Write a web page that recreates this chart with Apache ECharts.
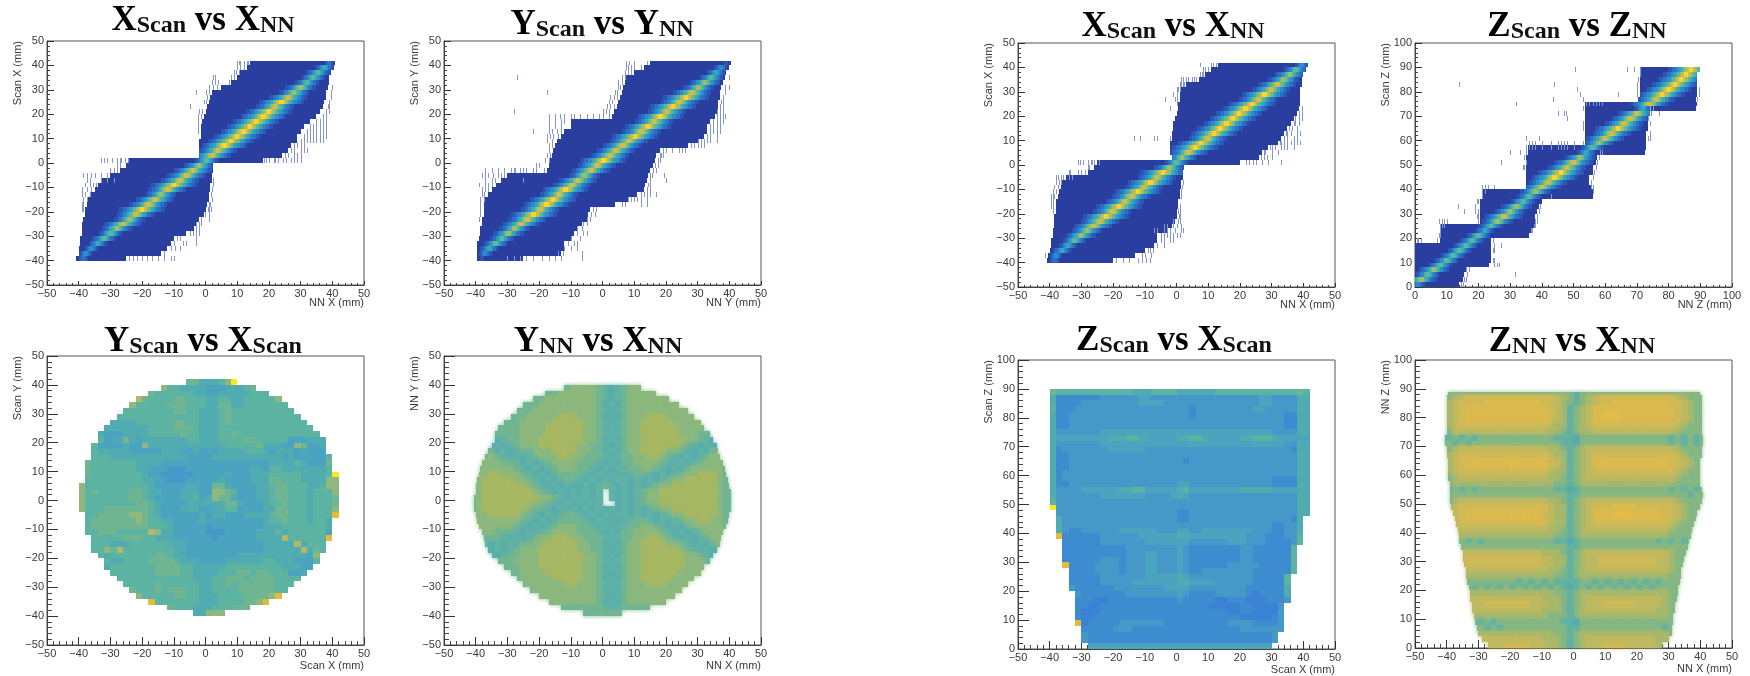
<!DOCTYPE html>
<html><head><meta charset="utf-8">
<style>html,body{margin:0;padding:0;background:#fff}#c{width:1750px;height:676px;filter:blur(0.45px)}</style>
<script src="https://cdn.jsdelivr.net/npm/echarts@6/dist/echarts.min.js"></script>
</head><body><div id="c"></div>
<script>
// ---------- ridge panels: one row per 2 mm scan step ----------
const xyRowEdges=[-40,-38,-36,-34,-32,-30,-28,-26,-24,-22,-20,-18,-16,-14,-12,-10,-8,-6,-4,-2,0,2,4,6,8,10,12,14,16,18,20,22,24,26,28,30,32,34,36,38,40];
const zRowEdges=[0,2,4,6,8,10,12,14,16,18,20,22,24,26,28,30,32,34,36,38,40,42,44,46,48,50,52,54,56,58,60,62,64,66,68,70,72,74,76,78,80,82,84,86,88];
const ridgeHalfWidths=[0.7,1.3,2.0,2.8,3.7,4.8,6.0,7.2];

const p1Lo=[-41,-40,-40,-39.5,-39.5,-39,-39,-39,-38.5,-38,-38,-37.5,-37,-36,-35,-34,-33,-30,-27,-25,-24,-2,-2,-2,-2,-1.5,-1.5,-1.5,-1,-0.5,0,0.5,1,1.5,2,5,8,10,11,13,14];
const p1Hi=[-25,-14,-12,-11,-10,-6,-3.5,-3,-2,-0.5,0,0.5,1,1,1.5,1.5,2,2,2.5,2.5,18,24,26,27,29,29,30,31,33,35,36,37,37.5,38,38,38.5,39,39,39.5,40.5,41];
const p1Centre=[-38.5,-37.8,-36,-34,-32,-30,-28,-26,-24,-22,-20,-18,-16,-14,-12,-10,-8,-6,-4,-2,0.3,2,4,6,8,10,12,14,16,18.3,20,22,24,26,28,30,32,34,35.5,37.5,39];
const p1Peak=[2,3,3,4,5,5,6,7,6,7,8,7,7,6,7,8,7,7,7,6,5,7,7,8,8,8,8,8,8,8,8,7,8,7,6,6,5,5,5,4,2];
const p1Flecks=[[-40,-24,-23,-21.5,-20,-18.5,-17,-15,-13,-11,-10],[-38,-13],[-36,-11,-9.5,-8],[-34,-10,-7,-6,-3],[-32,-9,-8,-3],[-30,-5,-4,-3,-2],[-28,-3,-2],[-26,-3,-1.5,-2],[-24,1,-1.5],[-22,1,-0.2],[-20,-39,-38.5,0.8,1.2,1.8],[-18,-39,-38.5,1,1.5],[-16,-38.5,-37.5,2],[-14,-39,-38,-36.5,1.8],[-12,-39,-37.5,-36,2],[-10,-38,-36.5,-35.5,-34.5,2.5],[-8,-37.5,-36.5,-33,-31,-29,2.5],[-6,-38.5,-37.5,-36,-35,-33,-31],[-4,-30,-29,-28],[-2,-28,-27],[0,-33,-32,-31,-29.5,-28,-27,-26.5,-25.5,-24.5,18.5,19,20,21.5,22,23,24.5,25.5,27,28,29,30],[2,25,26,28,29,30],[4,27,28,30,31,32],[6,28,29,30,31],[8,30,31,32,33,34,35,36,37],[10,31,32,33,34,35,36,37,38],[12,-2.4,32,33,34,35,36,37,38],[14,-2.5,33,34,35,36,37,38],[16,-2.5,35,36,37,38],[18,-2.5,-1.5,37,38],[20,-2,-1,38,39],[22,-5,38.5,39],[24,-0.5,0,39],[26,0.5,39.5],[28,-3,0,1,39.5],[30,1,2.5,3.5,40],[32,2,3,4,7.5],[34,2.5,3,8,9],[36,9,9.5,10.5],[38,10,11,12],[40,10,10.5,11,12,13,13.5]];

const p2Lo=[-39.5,-39.5,-39.5,-39.5,-39,-38.5,-38.5,-38,-38,-37.5,-37.5,-37.5,-37,-36,-35,-33.5,-32,-30,-17.5,-17,-16.5,-16,-15.5,-15,-14.5,-13,-12,-10,-10,3,3.5,4.5,5,5.5,6,6.5,7,7.5,10,13,15];
const p2Hi=[-25,-13,-12,-12,-10,-9,-8,-6.5,-5,-4.5,-4,4,8,11,13,13.5,14,14.5,15,16,16.5,17,18,27,30,32,33,33,34,35.5,36,36.5,36.5,37,37,37.5,38,38.5,39,40,40.5];
const p2Centre=[-38,-37,-35.7,-33.7,-31.7,-29.7,-27.7,-25.7,-23.7,-21.7,-19.7,-17.7,-15.7,-13.7,-11.7,-9.7,-7.7,-5.7,-3.7,-1.7,0.3,2.3,4.3,6.3,8.3,10.3,12.3,14.3,16.3,18.3,20.3,22.3,24.3,26.3,28.3,30.3,32.3,34.3,35.8,37.3,39];
const p2Peak=[1,3,4,5,5,6,6,7,7,8,7,8,8,7,8,7,7,6,7,7,8,7,7,7,7,8,7,8,7,8,7,8,7,8,7,6,6,5,4,3,1];
const p2Flecks=[[-40,-30,-28,-26,-24,-22,-19,-17,-15,-13,-6.5],[-38,-14,-12.5,-6.5],[-36,-12,-10,-8],[-34,-11,-9,-8],[-32,-10,-7],[-30,-8,-6,-5],[-28,-8,-6.5],[-26,-6,-5],[-24,-39,-5,-4],[-22,-38.7,-3.5,-2.5],[-20,-38.5,-3,-2],[-18,-38.5,6,7,12,14],[-16,-38.5,-37.5,8,9,10,11,12,14],[-14,-38,-37.5,12,13,14,15,17],[-12,-38,-37,-36,14,15],[-10,-39,-37,-36,-35,14.5,15],[-8,-37,-35,-34,-25,15,20],[-6,-38,-37,-36,-34.5,-33,-32,-31,15,15.5,19.5],[-4,-37,-35,-33,-31,-29,-28,-27.5,-26,-25,-24,-22,-21,-18.5,16,17],[-2,-20,-21,16.5,17.5],[0,-17,-18,17.5,18],[2,-17.5,-16.5,18,18.5,19],[4,-17,19,20,22,24,25,26],[6,-17,-16,28,29,30,31,32],[8,-17.5,-16,30,31,32,33,34,36],[10,-17.5,-16.5,-15.5,-14,33,34,36],[12,-22,-17,-16,-14.5,-13,34,35,36,37],[14,-17,-15,-13,34,35,36,37],[16,-17,-15,-13,-12,35,36,37,38],[18,-17,-15,-13.5,-12,-10,-9,-7,-5,-3,-1,0,2,36,37,38,38.5],[20,-28,0,1,2,36,37,38],[22,1.5,2.5,3.5,37,38],[24,2,3,37.5,38],[26,2.5,3.5,4.5,38],[28,-17.5,4,4.5,38.5],[30,5,5.5,38.5,40],[32,5,6],[34,-27,6,7,40],[36,7,8,9],[38,7.5,8,9,10,12],[40,7.5,8.5,10,14]];

const p5Lo=[-41,-40.5,-40,-39.5,-39.5,-39,-39,-38.5,-38.5,-38.5,-38,-38,-38,-37.5,-37,-36.5,-36,-35,-28,-26,-25,-1.5,-2,-2,-2,-1.5,-1.5,-1,-1,-0.5,0,0.5,0.5,1,1,1.5,3,7,9,11,13];
const p5Hi=[-20,-13,-10,-7,-6,-6,-3,-1.5,-0.5,0,0,0.5,0.5,1,1,1.5,1.5,2,2,2.5,20,26,27,29,32,33,34,35,36,37,38,38.5,39,39,39,39,39.5,39.5,40,41,41.5];
const p5Centre=[-38.5,-38,-36.2,-34.2,-32.2,-30.2,-28.2,-26.2,-24.2,-22.2,-20.2,-18.2,-16.2,-14.2,-12.2,-10.2,-8.2,-6.2,-4.2,-2.2,0,1.8,3.8,5.8,7.8,9.8,11.8,13.8,15.8,17.8,19.8,21.8,23.8,25.8,27.8,29.8,31.8,33.8,35.8,37.6,39.5];
const p5Peak=[2,3,4,4,5,6,6,7,7,8,7,8,7,7,8,7,8,7,8,6,5,6,7,8,8,7,8,8,8,8,8,8,8,7,8,7,7,6,6,5,3];
const p5Flecks=[[-40,-19,-17,-15,-12,-11,-9.5,-8.5],[-38,-41.5,-11,-10,-8],[-36,-9,-7.5,-8.5],[-34,-6,-4],[-32,-5,-4,-2,-1],[-30,-5,-4,-3,-2,-1,0,1],[-28,-7,-6,-4,-3,-2,-0.5,1.5,2],[-26,-4,-3,-1,0,1.5],[-24,-1,0.5,1],[-22,0.8,1.2],[-20,-39,0.5,1.2],[-18,-39.5,-39,1],[-16,-39.5,-39],[-14,-39.5,-39,-38.5,1.5],[-12,-39,-38,1.5],[-10,-38.5,-37.5,1.8],[-8,-38,-37,-36.5,2.2],[-6,-38,-37.5,-36.5,-35.7,-34,-33],[-4,-34,-33.5,-31,-30,-29,-30],[-2,-28,-27.5],[0,-31,-30.5,-29.5,-28,-27,-26.5,-24.5,-26,22,23,24,25,27,29,33],[2,26.5,27.5,28.5,30],[4,27.5,28,30,32],[6,29.5,30,31,33,34,35,37],[8,32.5,33,34,35,36,37,38,39],[10,34,-2.2,-6,-7,-11.5,-13.5,35,37,38],[12,34.5,35,36,38,39],[14,35.5,36.5,38],[16,37,37.5,38.5],[18,37.5,38.5,39.5],[20,38.8,39.5],[22,-2,39.5],[24,0],[26,-3.5,-0.5,0],[28,0,-1],[30,0,0.5,1],[32,1,1.5,2,2.3],[34,1.5,2,3,3.5,5,5.5,6],[36,7.5,8,8.5],[38,8.5,9,10],[40,7.5,11,11.5,12.5]];

const p6Lo=[0,0,0,0,0,0,0,0,0,8,8,8,8,20.5,20.5,20.5,20.5,20.5,21,21,35,35,35,35,35,35,35,35.5,35.5,53.5,53.5,53.5,53.5,53.5,53.5,53.5,53.5,53.5,70.5,71,71,71,71,71,71];
const p6Hi=[14,15,15.5,16,23.5,24,24,24,24,24,36,37,37.5,38,38,38.5,39,40,56,56,55.5,55,55,56,56,57,57.5,72.5,73,73,73,73,73.5,73.5,73.5,74,88.5,89,88.5,89,89,89,89,89,90];
const p6Centre=[1,2,4,6,8,10,12,14,16,18,20,22,24,26,28,30,32,34,36,38,40,42,44,46,48,50,52,54,56,58,60,62,64,66,68,70,72,74,76,78,80,82,84,85.5,87];
const p6Peak=[3,6,5,6,5,5,5,5,5,5,5,4,5,6,7,6,6,5,5,6,7,7,8,8,7,7,6,4,5,6,7,7,8,7,7,7,4,7,7,8,8,8,8,8,8];
const p6Flecks=[[0,14.5,15],[2,15.5,16],[4,16.5,31.5],[6,16,17],[8,25,26,26.5],[10,24.5,25],[14,24.5,25],[16,25,27],[18,0.5,1,2,7,24.5],[20,7.5,8],[22,8,36.5,37],[24,8,8.5,9,37.5,38],[26,7.5,8.5,9,10,20,38,38.5],[28,19.5,20,38.5],[30,15.5,19,20,39],[32,13.5,19,39.5],[34,19.5,20],[36,21,43],[38,21,22,56],[40,21,22,23,25,55.5,56],[42,55.5],[44,56],[46,56.5],[48,34,34.5,57],[50,27,35,57.5],[52,34.5,58],[54,30,33,35,58.5,59],[56,35,36,37,38,40,43,45,46,47,48,50],[58,36,37,38,40,43,45,46,47,48,50,53],[60,35,39,73.5,74],[62,74],[64,53],[66,53,74],[68,48,73.5],[70,45,47,47.5,74.5,77],[72,53,74,75],[74,32,54,55,56,57,58,59],[76,43.5,53,89],[78,52,64,70,89.5],[80,51,70,89.5],[82,14,44,70],[84,70.5],[86,71],[88,50.5,67,69,71]];

// ---------- flat 2 mm maps: '.' is empty, digits/letters are colour levels, spaces only for reading ----------
const scanXYRows=[
".......... .......775 5568y..... .......... .",
".......... ...8665555 44455567.. .......... .",
".......... .766666655 4455555666 .......... .",
".........9 7666677666 5566556666 68........ .",
"........86 6666777666 5577556666 666....... .",
".......666 6666677665 5567666666 6666...... .",
"......6666 6666666665 5567666666 66666..... .",
".....55556 6666677665 5567666666 666666.... .",
"....555555 5666677765 5566666666 6666666... .",
"...5444555 5666667665 5566766666 66666666.. .",
"...6445754 5555555665 5566667766 666444555. .",
"..64444544 8555555555 5556666675 554487445. .",
"..65555544 4445554454 4455556665 455545444. .",
"..66655555 5555555444 4555555555 5545444446 .",
".766666665 5554444444 4444444444 5555654447 .",
".766666665 5444333444 4444444554 6655555556 .",
".766666666 5443333344 4445444555 6666655556 y",
".666666666 5544333444 4454444555 7766655558 8",
"8666666666 6544444554 4775444455 6776665568 8",
"8676666677 6554445554 4887644455 6776665666 8",
"8666666677 6544445564 5877544455 6776665666 7",
"8666666667 7654444555 5557754445 6676665666 7",
"8666777777 7654445554 4556644445 5776665666 8",
".667777788 7654444445 4554445555 6776665666 o",
".677777778 7665544445 4444444445 6676665665 .",
".677777777 7666544444 3444444445 5566666665 .",
".667776666 6985544444 3334444455 5656666664 .",
"..66666777 6655544444 4344444455 559666666o .",
"..66655566 6666555444 4444444445 555595666. .",
"..66879666 6666655444 4444444445 555559576. .",
"...6566666 6677655444 4444455555 55555548.. .",
"....655666 6777765554 4445555556 65554446.. .",
"....566666 6677776655 5556666666 6655544... .",
".....66666 6677776655 5566677677 666445.... .",
"......6666 6666666655 5667776777 76666..... .",
".......666 6676666665 5667677777 7666...... .",
"........76 6676777665 5666677777 766....... .",
".........8 6666677665 5566667777 8o........ .",
".......... .o66666665 556666778o .......... .",
".......... ....766655 5666777... .......... .",
".......... ........55 888....... .......... ."];
const scanXZRows=[
"7666666666 6665556666 5555556666 6666666667 6",
"5222222233 3333443333 3333333333 3334433335 5",
"5222233333 3333444433 3333333333 3334433335 5",
"6222333333 3333333333 3323333333 3344333335 5",
"5223333333 3333333333 3323333333 3333333225 5",
"5223333333 3333333333 3333333333 3333333225 5",
"5223333333 3333333333 3333333333 3333333225 5",
"5333333344 4444444444 4444444444 4444433335 5",
"5444444445 5566544444 5566544444 5566654444 4",
"5333333344 4444444444 4444444444 4444444335 5",
"5233333334 4444433333 3333333333 3333333325 5",
"5223333333 3333333333 3333333333 3333333335 5",
"5223333333 3333333333 3233333333 3333333335 5",
"5223333333 3333333333 3333333333 3333333335 5",
"5233333333 3333333333 3333333333 3333333335 5",
"5233333333 3333333333 3333333333 3333322225 5",
"5223333333 3333333333 4433333333 3333322225 5",
"5333344444 4556644444 5644444444 5555544445 5",
"5333333344 4444433334 5433333333 3333333335 5",
"6333333333 3333333333 3333333333 3333333335 5",
"y333333333 3333333333 3333333333 3333333335 5",
".333333333 3333333333 2233333333 3333333335 5",
".533333333 3333333333 2233333333 3333333325 .",
".533333333 3333333333 3333333333 3333322335 .",
".532233333 3444444333 4433444444 4433322335 .",
".o22222233 3333444444 5544444444 4333222336 .",
"..22222233 3333344444 4433333344 4333222236 .",
"..22222222 2233333333 4322222222 332222226. .",
"..22222222 2233344333 4322222222 332222226. .",
"..22222233 3233344333 4322222222 332222226. .",
"..o2222333 3233344333 4322222233 333222226. .",
"...2222333 3233344333 4322333333 332222226. .",
"...2222233 3333344444 5433333333 33222226.. .",
"...2222233 3334444444 5544443333 33222226.. .",
"...3222222 3333333344 4433333333 32222225.. .",
"....322222 2233333333 4322223333 32122225.. .",
"....222112 2222222222 3222221122 21112223.. .",
"....221122 2222222222 2222211111 2211113... .",
"....211122 2222222222 2222222211 2211113... .",
"....211222 2222222222 2222222222 1111123... .",
"....o12222 2333333322 2222222233 3322223... .",
".....22222 3332222222 2222222222 3333333... .",
".....32222 2222222222 2222222222 222223.... .",
".....32222 2222222222 2222222222 222223.... .",
"......4444 4444444444 4444444444 44444..... ."];
const nnXYRows=[
"6666666666 6666667777 6545677777 6666666666 66",
"6666666666 6666777777 6545677777 7666666666 66",
"6666666666 6677777777 6545677777 7776666666 66",
"6666666666 6777777777 6454677777 7777666666 66",
"6666666666 7777777777 6545677777 7777766666 66",
"6666666667 7777888777 6454677788 8777776666 66",
"6666666677 7778888877 6545677888 8877777666 66",
"6666666677 7788888877 6454677888 8887777666 66",
"6666666677 7788888877 6545677888 8887776666 66",
"6665456677 7888888877 6454677888 8888776544 56",
"6664545677 7888888776 6545677888 8887654545 66",
"6766454566 7778888776 6454677888 8776545467 66",
"6767654545 6777887766 6545667788 7654545677 66",
"6777766545 4567777666 5454667777 6545456777 66",
"6777777654 5456777665 4545566776 5454677777 66",
"6778877765 4545666654 5454556654 5456778887 66",
"6788888776 5454566545 4545545454 5677888887 66",
"6788888887 6545454454 5654545456 7788888887 66",
"6788888888 7654545454 5.54545677 8888888887 66",
"6788888888 8776545454 5.54545677 8888888887 66",
"6788888888 7765454545 5..4545677 8888888887 66",
"6788888887 6654545454 5454545456 7788888887 66",
"6778888876 5454566545 4545545454 5677888887 66",
"6777777765 4545666654 5454556654 5456778877 66",
"6777777654 5456777665 4545566776 5454677777 66",
"6777666545 4567777666 5454667777 6545456777 66",
"6766654545 6778887766 6545667788 7654545677 66",
"6664545466 7788888776 6454677888 8776545467 66",
"6454545677 7888888776 6545677888 8887654545 66",
"6545456677 7888888877 6454677888 8888776544 56",
"6666666777 7888888877 6545677888 8888777666 66",
"6666666677 7888888877 6454677888 8888777666 66",
"6666666677 7788888877 6545677888 8887777666 66",
"6666666677 7778888877 6454677888 8877777666 66",
"6666666667 7777788777 6545677788 8777776666 66",
"6666666666 7777777777 6454677777 7777766666 66",
"6666666666 6777777777 6545677777 7777666666 66",
"6666666666 6677777777 6454677777 7766666666 66",
"6666666666 6666666666 6545666666 6666666666 66",
"6666666666 6666666666 6666666666 6666666666 66"];
const nnXYRowEdges=[38,36,34,32,30,28,26,24,22,20,18,16,14,12,10,8,6,4,2,0,-2,-4,-6,-8,-10,-12,-14,-16,-18,-20,-22,-24,-26,-28,-30,-32,-34,-36,-38,-40];
const nnXYLo=[-12,-18,-22,-25,-27,-29,-31,-33,-34,-34,-35,-36,-37,-38,-38.5,-39,-39.5,-40,-40,-40.5,-40.5,-40.5,-40,-39.5,-39,-38,-37.5,-37,-36,-35,-33,-31,-29,-27,-25,-23,-20,-17,-13,-6];
const nnXYHi=[12,17,21,24,27,29,31,32,34,35,36,36.5,37,38,38.5,39,39.5,40,40.5,40.5,40.5,40.5,40,39.5,39,38,37.5,37,36,35,34,32,31,29,27,25,23,20,15,6];
const nnXZRows=[
"6666666666 6666666666 6566666666 6666666666 66",
"6678999999 9999999987 6567899999 9999999876 66",
"6789999aaa aaaaaa9987 6567899aaa aaaaaa9987 66",
"6789aaaaaa aaaaaaa987 5678aaaaaa aaaaaaa987 66",
"6789aaaaaa aaaaaaa987 5678aaooaa aaaaaaa987 66",
"6789aaaaaa aaaaaaa987 5678aaooaa aaaaaa9987 66",
"6789999999 9999999877 5678999999 9999999876 66",
"6688888888 8888888776 5677888888 8888888766 66",
"5565656666 6666666655 5466666666 6666665656 56",
"6656566666 6666666665 5466666666 6666665656 56",
"6678888888 8888888776 5678888888 8888888766 66",
"6789999999 9999999877 5678999999 9999999876 66",
"6789aaaaaa aaaaaaa987 5678aaaaaa aaaaaa9987 66",
"6789aaaaaa aoaaaaa987 5678aaaaaa aaaaaa9987 66",
"6789999999 9999999877 5678999999 9999999876 66",
"6678888888 8888888776 5678888888 8888888766 66",
"6677777777 7777777766 5677777777 7777777666 66",
"6565656666 6666666655 4566666666 6666665656 56",
"6666666666 6666666666 5566666666 6666666665 66",
"6678888888 8888888776 5678888888 8888888766 66",
"6789999999 99999a9877 5678999aaa a999999876 66",
"6789aaaaaa aaaoaa9877 5678aaaaoo aaaaa99876 66",
"6789aaaaaa aoooaa9877 5678aaaooo aaaaa99876 66",
"6789999999 99999a9877 5678999999 9999998766 66",
"6678888888 8888888776 5678888888 8888887666 66",
"6677777777 7777777766 5677777777 7777776666 66",
"6656565666 6666666655 4566666666 6666565656 66",
"6666666666 6666666666 5566666666 6666666666 66",
"6678888888 8888887776 5678888888 8888887666 66",
"6678999999 9999998877 5678899999 9999887666 66",
"6678999999 9999998877 5678899999 9999887666 66",
"6678888888 8888888776 5678888888 8888887666 66",
"6677777777 7777777766 5677777777 7777776666 66",
"6666666666 6656565655 5566565656 5656566666 66",
"6666656565 6565656565 4565656565 6565666666 66",
"6677777777 7777777766 5677777777 7777776666 66",
"6677888888 8888887776 5678888888 8888876666 66",
"6677888999 9999888776 5678889999 9888876666 66",
"6677888888 8888887776 5678888888 8888776666 66",
"6677777777 7777777666 5677777777 7777776666 66",
"6666665656 6666666665 5466666666 6666666666 66",
"6666656565 6666666666 5566666666 6666656566 66",
"6667777777 7777777766 5677777777 7777776666 66",
"6677788888 8888887776 5678888888 8888777666 66",
"6677788888 9999888776 5678889998 8888777666 66"];
const nnXZLo=[-39.5,-40,-40,-40,-40,-40,-40,-40,-40.5,-40.5,-40,-40,-39.5,-39.5,-39.5,-39.5,-39,-39,-39,-39,-38.5,-38,-37.5,-37,-36.5,-36,-36,-35.5,-35,-35,-34.5,-34,-34,-33.5,-33,-32.5,-32.5,-32,-32,-31.5,-31,-30.5,-30,-29,-27];
const nnXZHi=[40,40.5,40.5,40.5,40.5,40.5,40.5,40.5,41,41,40.5,40.5,40,40,40,40,40,40.5,41,40.5,40,39,38.5,38,37.5,37,36.5,36,35.5,35,34.5,34,34,33.5,33,33,32.5,32,32,31.5,31.5,31,31,30,28];
const nnXZTop=89;

const ridgeColours=['#2a3e9f','#2a56b8','#2b70c6','#2d8dcb','#35a8bb','#5cb89a','#9dbd68','#cfbd4c','#f8d62a','#8495d2'];
const levelKeys=['1','2','3','4','5','6','7','8','9','a','o','y'];
const scanColours=['#3b82d4','#3e8cd0','#4598c8','#4aa4c0','#50acb0','#5cb3a2','#70b592','#8fb87e','#b3b968','#d0ba55','#e6b93a','#ffe81e'];
const nnXYColours=['#3b82d4','#3e8cd0','#4598c8','#58aeae','#63b2a4','#72b692','#8cb87e','#a8b864','#b3b968','#d0ba55','#e6b93a','#ffe81e'];
const nnXZColours=['#3b82d4','#3e8cd0','#4598c8','#52aab2','#62b2a2','#86b784','#a8b86c','#bfb960','#d0ba56','#dcbb50','#e4bc48','#ffe81e'];

function ridgeCells(edges,lo,hi,centre,peak,flecks){
  const out=[];
  edges.forEach((y,i)=>{
    out.push([lo[i],hi[i],y,y+2,0]);
    for(let L=1;L<=peak[i];L++){
      const w=ridgeHalfWidths[peak[i]-L];
      out.push([Math.max(lo[i],centre[i]-w),Math.min(hi[i],centre[i]+w),y,y+2,L]);
    }
  });
  flecks.forEach(r=>r.slice(1).forEach(x=>out.push([x,x+0.3,r[0],r[0]+2,9])));
  return out;
}
function mapCells(rows,edges,startX,lo,hi,top){
  const out=[];
  rows.forEach((s,r)=>{
    const t=s.replace(/ /g,''),y=edges[r];
    [...t].forEach((ch,i)=>{
      if(ch==='.')return;
      let a=startX+2*i,b=a+2;
      if(lo){a=Math.max(a,lo[r]);b=Math.min(b,hi[r]);if(b<=a)return;}
      const y1=top?Math.min(y+2,top):y+2;
      out.push([a,b,y,y1,levelKeys.indexOf(ch)]);
    });
  });
  return out;
}
const desc=a=>a.slice().reverse();
const xyDesc=desc(xyRowEdges), zDesc=desc(zRowEdges);

const panels=[
 {l:47,t:41,b:285,xr:[-50,50],yr:[-50,50],xn:'NN X (mm)',yn:'Scan X (mm)',cells:ridgeCells(xyRowEdges,p1Lo,p1Hi,p1Centre,p1Peak,p1Flecks),pal:ridgeColours,tick:[4,2],np:12},
 {l:444,t:41,b:285,xr:[-50,50],yr:[-50,50],xn:'NN Y (mm)',yn:'Scan Y (mm)',cells:ridgeCells(xyRowEdges,p2Lo,p2Hi,p2Centre,p2Peak,p2Flecks),pal:ridgeColours,tick:[4,2],np:12},
 {l:47,t:356,b:645,xr:[-50,50],yr:[-50,50],xn:'Scan X (mm)',yn:'Scan Y (mm)',cells:mapCells(scanXYRows,xyDesc,-40),pal:scanColours,tick:[8,4],np:15},
 {l:444,t:356,b:645,xr:[-50,50],yr:[-50,50],xn:'NN X (mm)',yn:'NN Y (mm)',cells:mapCells(nnXYRows,nnXYRowEdges,-42,nnXYLo,nnXYHi),pal:nnXYColours,tick:[8,4],np:15,soft:4},
 {l:1018,t:43,b:287,xr:[-50,50],yr:[-50,50],xn:'NN X (mm)',yn:'Scan X (mm)',cells:ridgeCells(xyRowEdges,p5Lo,p5Hi,p5Centre,p5Peak,p5Flecks),pal:ridgeColours,tick:[4,2],np:12},
 {l:1415,t:43,b:287,xr:[0,100],yr:[0,100],xn:'NN Z (mm)',yn:'Scan Z (mm)',cells:ridgeCells(zRowEdges,p6Lo,p6Hi,p6Centre,p6Peak,p6Flecks),pal:ridgeColours,tick:[4,2],np:12},
 {l:1018,t:360,b:649,xr:[-50,50],yr:[0,100],xn:'Scan X (mm)',yn:'Scan Z (mm)',cells:mapCells(scanXZRows,zDesc,-40),pal:scanColours,tick:[8,4],np:15},
 {l:1415,t:360,b:648,xr:[-50,50],yr:[0,100],xn:'NN X (mm)',yn:'NN Z (mm)',cells:mapCells(nnXZRows,zDesc,-42,nnXZLo,nnXZHi,nnXZTop),pal:nnXZColours,tick:[8,4],np:15,soft:4}
];
const titleSpecs=[
 {c:198,top:-3,s:['X','Scan','X','NN']},
 {c:597,top:1,s:['Y','Scan','Y','NN']},
 {c:198,top:318,s:['Y','Scan','X','Scan']},
 {c:593,top:318,s:['Y','NN','X','NN']},
 {c:1168,top:3,s:['X','Scan','X','NN']},
 {c:1572,top:3,s:['Z','Scan','Z','NN']},
 {c:1169,top:317,s:['Z','Scan','X','Scan']},
 {c:1567,top:318,s:['Z','NN','X','NN']}
];
const minus=v=>String(v).replace('-','\u2212');
const font='"Liberation Sans",Arial,sans-serif';
const axisBits=()=>({
  interval:10,
  axisLine:{show:true,onZero:false,lineStyle:{color:'#444',width:1}},
  axisTick:{show:true,inside:true,lineStyle:{color:'#333',width:1}},
  minorTick:{show:true,splitNumber:5,lineStyle:{color:'#444',width:1}},
  splitLine:{show:false},
  axisLabel:{fontFamily:font,fontSize:11,color:'#3a3a3a',formatter:minus,showMinLabel:true,showMaxLabel:true,hideOverlap:false},
  nameMoveOverlap:false
});
const option={
  animation:false,backgroundColor:'#fff',
  title:titleSpecs.map(t=>({
    left:t.c,top:t.top,textAlign:'center',
    text:`{a|${t.s[0]}}{b|${t.s[1]}}{a| vs ${t.s[2]}}{b|${t.s[3]}}`,
    textStyle:{rich:{
      a:{fontFamily:'"Liberation Serif",serif',fontWeight:'bold',fontSize:35,color:'#000',lineHeight:36,verticalAlign:'bottom'},
      b:{fontFamily:'"Liberation Serif",serif',fontWeight:'bold',fontSize:24,color:'#111',lineHeight:22,verticalAlign:'bottom'}
    }}
  })),
  grid:panels.map(p=>({left:p.l,top:p.t,width:317,height:p.b-p.t,show:true,borderColor:'#555',borderWidth:1,backgroundColor:'transparent'})),
  xAxis:panels.map((p,i)=>{const a=axisBits();a.axisTick.length=p.tick[0];a.minorTick.length=p.tick[1];
    return Object.assign(a,{type:'value',gridIndex:i,min:p.xr[0],max:p.xr[1],name:p.xn,nameLocation:'end',nameGap:0,
      nameTextStyle:{fontFamily:font,fontSize:11,color:'#3a3a3a',align:'right',verticalAlign:'top',padding:[p.np,0,0,0]},
      axisLabel:Object.assign(a.axisLabel,{margin:3})});}),
  yAxis:panels.map((p,i)=>{const a=axisBits();a.axisTick.length=p.tick[0]+3;a.minorTick.length=p.tick[1]+1;
    return Object.assign(a,{type:'value',gridIndex:i,min:p.yr[0],max:p.yr[1],name:p.yn,nameLocation:'end',nameGap:0,nameRotate:90,
      nameTextStyle:{fontFamily:font,fontSize:11,color:'#3a3a3a',align:'right',verticalAlign:'bottom',padding:[0,0,24,0]},
      axisLabel:Object.assign(a.axisLabel,{margin:3})});}),
  series:panels.map((p,i)=>({
    type:'custom',xAxisIndex:i,yAxisIndex:i,data:p.cells,clip:!p.soft,silent:true,
    encode:{x:[0,1],y:[2,3]},
    renderItem:(params,api)=>{
      const a=api.coord([api.value(0),api.value(2)]),b=api.coord([api.value(1),api.value(3)]);
      const x=Math.round(a[0]),y=Math.round(b[1]);
      const fill=p.pal[api.value(4)];
      const style={fill};
      if(p.soft){style.shadowBlur=p.soft;style.shadowColor=fill;}
      return {type:'rect',shape:{x,y,width:Math.max(1,Math.round(b[0])-x),height:Math.max(1,Math.round(a[1])-y)},style};
    }
  }))
};
echarts.init(document.getElementById('c'),null,{renderer:'canvas'}).setOption(option);
</script></body></html>
